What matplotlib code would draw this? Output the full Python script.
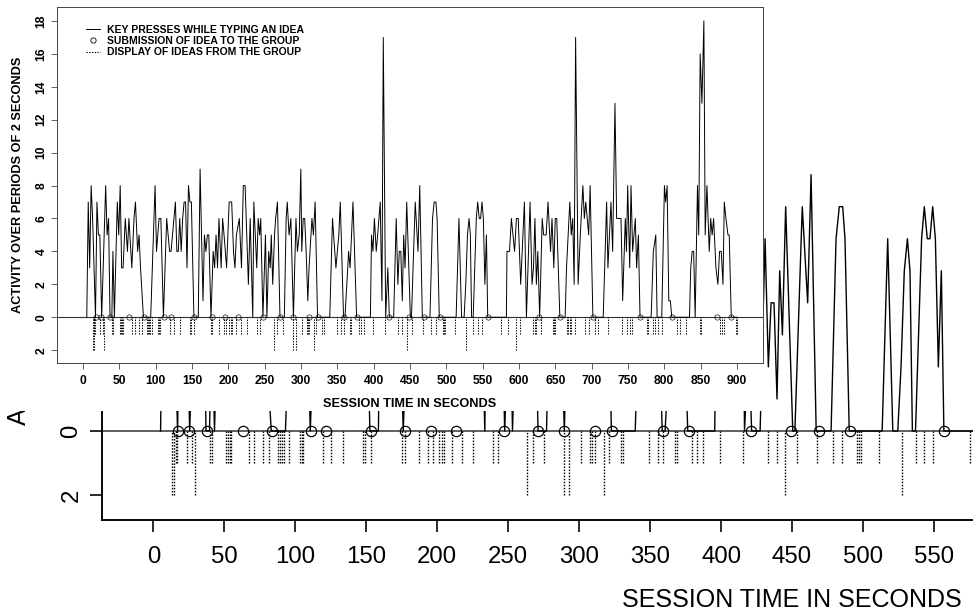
import matplotlib
matplotlib.use("Agg")
import matplotlib.pyplot as plt
from matplotlib.lines import Line2D
from matplotlib.patches import Rectangle
import numpy as np

plt.rcParams['font.family'] = ['Liberation Sans', 'DejaVu Sans']

# key presses per 2-second period (vertices of the trace, seconds / count)
key_t = [5, 7, 9, 11, 13, 17, 19, 21, 23, 25.5, 31, 33, 35, 37, 39.5, 41, 43, 47, 49, 51,
         53, 55, 58, 61, 63, 67, 70, 72, 75, 77, 79, 83, 93, 99, 101, 104.5, 107, 110.5, 115, 119,
         121, 125, 127, 129, 131, 133, 135, 137, 139, 141, 143, 145, 147, 149, 152.5, 158.5, 161, 165, 167, 169,
         171, 173, 176, 179, 181, 183, 185, 187, 190, 192, 194, 197.5, 201, 204.5, 207, 209, 211, 215, 218, 220.5,
         223, 227.5, 230, 233.5, 235, 239, 241, 243, 244.5, 247.5, 251, 253, 255.5, 257.5, 259, 261, 263.5, 265, 267.5, 271,
         277, 279.5, 281, 283.5, 286, 289.5, 293, 295, 297.5, 299.7, 301, 303, 305, 307, 309.3, 311, 315, 317, 319.4, 322.7,
         339.5, 343.3, 348, 352, 354, 358.5, 360.5, 363, 365.5, 367.5, 371.5, 376.5, 395.5, 397, 399, 401, 403.5, 405.5, 409, 411.4,
         413.2, 416.5, 419.5, 421.5, 427.5, 431, 433.3, 435.2, 437.3, 439.4, 441.3, 443.2, 445.5, 450.5, 452, 457.2, 461, 463.4, 467, 469,
         477.5, 481, 483.3, 485.7, 487.3, 490.3, 513.5, 517.4, 521, 524.5, 526.8, 529.1, 531.3, 533.1, 534.8, 537, 541.3, 543.2, 545.3, 547.2,
         549.1, 551, 553.1, 555.2, 557, 582.7, 583.5, 587, 589.6, 594, 596.5, 599, 602.4, 607.5, 610.3, 615.3, 618, 620, 622, 624,
         626, 628.5, 632, 634, 637.5, 640, 643.5, 645.5, 648, 650, 652, 656.3, 663.6, 665.5, 670, 672, 674, 676, 678, 681.5,
         684.5, 688, 690, 692, 696, 698, 701.8, 716, 720.7, 722.5, 726.7, 729, 732.2, 734.5, 740.5, 742.8, 746.4, 748, 749.7, 752.5,
         754.3, 756.5, 760.2, 762, 764.4, 766.7, 782, 785, 788.4, 790.2, 796.6, 800.3, 802, 804, 806.3, 808.5, 810.4, 834.8, 836.5, 838.5,
         840.5, 842.6, 845.8, 847.5, 849.5, 851.9, 854.6, 856.4, 858.8, 862, 864, 866, 868, 871.2, 873.9, 876.2, 878.5, 880.9, 882.7, 885,
         887.8, 889.5, 892.3, 900]
key_v = [0, 7, 3, 8, 6, 0, 7, 5, 5, 0, 8, 5, 6, 0, 0, 4, 0, 7, 5, 8,
         3, 3, 6, 4, 6, 3, 6, 7, 4, 5, 3, 0, 0, 8, 4, 6, 6, 0, 6, 4,
         4, 6, 7, 4, 4, 6, 4, 6, 7, 7, 3, 8, 7, 7, 0, 0, 9, 1, 5, 4,
         5, 5, 0, 4, 3, 5, 3, 6, 3, 6, 5, 3, 7, 7, 4, 3, 5, 6, 3, 8,
         8, 2, 6, 0, 7, 3, 6, 5, 6, 0, 5, 0, 4, 3, 5, 2, 5, 6, 7, 0,
         0, 6, 7, 5, 6, 0, 6, 4, 5, 9, 4, 6, 6, 4, 1, 3, 6, 5, 7, 0,
         0, 6, 3, 5, 7, 0, 0, 2, 4, 3, 7, 0, 0, 5, 4, 6, 4, 5, 7, 1,
         17, 0, 3, 0, 0, 6, 2, 4, 4, 1, 5, 3, 7, 0, 0, 7, 4, 8, 0, 0,
         0, 6, 7, 7, 6, 0, 0, 6, 0, 0, 2, 5, 6, 5, 0, 0, 6, 7, 6, 6,
         7, 6, 2, 5, 0, 0, 4, 4, 6, 4, 6, 6, 2, 7, 0, 7, 2, 3, 6, 2,
         4, 0, 6, 5, 5, 7, 4, 6, 3, 6, 6, 0, 0, 3, 7, 5, 6, 2, 17, 2,
         5, 8, 6, 7, 5, 8, 0, 0, 7, 3, 7, 4, 13, 6, 6, 1, 6, 4, 8, 3,
         8, 4, 6, 3, 5, 0, 0, 4, 5, 0, 0, 8, 7, 8, 1, 1, 0, 0, 3, 4,
         4, 0, 8, 5, 16, 13, 18, 5, 8, 4, 6, 5, 6, 3, 2, 4, 4, 2, 7, 6,
         5, 5, 0, 0]

# submissions of an idea to the group (seconds)
sub_t = [17.5, 25.2, 37.5, 63.3, 83.3, 111, 121.3, 153, 177, 195.3, 213.2, 247.2, 271.2, 289.3, 311.1,
         323.3, 359, 377.2, 421.3, 449.3, 469.2, 491, 557.3, 628.2, 655.9, 701.8, 766.7, 810.4, 872.6, 892.3]

# ideas displayed from the group (seconds / number shown)
disp_t = [13.3, 14.4, 15.6, 16.8, 23.4, 27.4, 29.2, 40.0, 41.2, 51.1, 52.5, 53.9, 54.8, 67.3, 71.0, 77.4,
          81.6, 87.5, 89.1, 90.5, 91.8, 95.3, 103.0, 104.4, 105.6, 119.2, 125.1, 133.3, 147.4, 148.8, 153.1,
          175.4, 177.0, 187.3, 193.4, 197.2, 201.4, 203.1, 204.5, 210.1, 217.4, 224.9, 239.0, 243.0, 263.2,
          267.2, 275.1, 289.3, 293.0, 301.3, 307.6, 309.2, 311.1, 317.4, 321.2, 329.2, 331.1, 349.2, 355.3,
          358.8, 367.5, 369.1, 379.5, 383.2, 387.2, 399.2, 415.4, 433.3, 439.2, 445.2, 453.3, 467.4, 479.1,
          485.2, 495.5, 497.2, 498.6, 511.5, 527.5, 537.1, 543.2, 549.1, 575.4, 585.4, 596, 601.5, 620,
          621.8, 623.1, 631, 647, 648.4, 649.8, 665.5, 667.3, 669.7, 671.4, 677.4, 691.2, 696.7, 704.6,
          709.2, 722.1, 741.9, 748.8, 752.5, 755.7, 776.4, 778.2, 784.2, 787.4, 791.1, 796.6, 817.3, 821.5,
          830.2, 849.9, 851.3, 876.2, 879, 882.3, 898.3, 900.6]
disp_n = [2, 2, 1, 1, 1, 1, 2, 1, 1, 1, 1, 1, 1, 1, 1, 1,
          1, 1, 1, 1, 1, 1, 1, 1, 1, 1, 1, 1, 1, 1, 1,
          1, 1, 1, 1, 1, 1, 1, 1, 1, 1, 1, 1, 1, 2,
          1, 1, 2, 2, 1, 1, 1, 1, 2, 1, 1, 1, 1, 1,
          1, 1, 1, 1, 1, 1, 1, 1, 1, 1, 2, 1, 1, 1,
          1, 1, 1, 1, 1, 2, 1, 1, 1, 1, 1, 2, 1, 1,
          1, 1, 1, 1, 1, 1, 1, 1, 1, 1, 1, 1, 1, 1,
          1, 1, 1, 1, 1, 1, 1, 1, 1, 1, 1, 1, 1, 1,
          1, 1, 1, 1, 1, 1, 1, 1]

xticks = list(range(0, 901, 50))
yticks = list(range(-2, 19, 2))
ytick_labels = [str(abs(v)) for v in yticks]
XLIM = (-36, 936)
YLIM = (-2.78, 18.85)

W, H = 973.0, 612.0


def box(l, t, r, b):
    return [l / W, 1 - b / H, (r - l) / W, (b - t) / H]


def draw_panel(ax, k, line_w, dot_w, dot_dash, base_w, weight, fs_tick, fs_lab,
               tlen, xpad, ypad, spine_col, ylab_x):
    ax.plot(key_t, key_v, color='black', lw=line_w, zorder=3)
    ax.axhline(0, color='#333333', lw=base_w, zorder=2)
    ax.vlines(disp_t, -np.array(disp_n, dtype=float), 0, colors='black', lw=dot_w,
              linestyles=(0, (dot_dash, dot_dash)), zorder=2)
    ax.plot(sub_t, np.zeros(len(sub_t)), 'o', ms=3.8 * k, mfc='none', mec='black',
            mew=0.45 * k, zorder=4)
    ax.set_xlim(*XLIM)
    ax.set_ylim(*YLIM)
    ax.set_xticks(xticks)
    ax.set_xticklabels([str(v) for v in xticks], fontsize=fs_tick, fontweight=weight)
    ax.set_yticks(yticks)
    ax.set_yticklabels(ytick_labels, fontsize=fs_tick, fontweight=weight,
                       rotation=90, va='center')
    ax.tick_params(axis='both', direction='out', length=tlen, width=0.6 * k, color=spine_col)
    ax.tick_params(axis='x', pad=xpad)
    ax.tick_params(axis='y', pad=ypad)
    for s in ax.spines.values():
        s.set_color(spine_col)
        s.set_linewidth(0.7 * k)
    ax.set_xlabel('SESSION TIME IN SECONDS', fontsize=fs_lab, fontweight=weight, va='top')
    ax.set_ylabel('ACTIVITY OVER PERIODS OF 2 SECONDS', fontsize=fs_lab, fontweight=weight)
    ax.xaxis.set_label_coords(0.5, -0.098)
    ax.yaxis.set_label_coords(ylab_x, 0.5)


fig = plt.figure(figsize=(9.73, 6.12), dpi=100)

# enlarged copy of the chart behind
ax_bg = fig.add_axes(box(102.4, -173.1, 1481.7, 520.1))
draw_panel(ax_bg, 1.95, 1.0, 1.0, 1.1, 1.1, 'normal', 17.3, 18, 8.3, 10.5, 6.0, 'black', -0.052)

# white window of the small chart
fig.add_artist(Rectangle((0, 1 - 411 / H), 764 / W, 411 / H, transform=fig.transFigure,
                         facecolor='white', edgecolor='none', zorder=1))

ax = fig.add_axes(box(57, 7, 763, 363))
ax.set_zorder(2)
draw_panel(ax, 1.0, 0.7, 0.75, 1.3, 0.8, 'bold', 8.7, 9.2, 4.3, 4.0, 2.5, '#444444', -0.047)

handles = [Line2D([], [], color='black', lw=0.7),
           Line2D([], [], ls='none', marker='o', ms=3.8, mfc='none', mec='black', mew=0.6),
           Line2D([], [], color='black', lw=0.75, ls=(0, (1.3, 1.3)))]
labels = ['KEY PRESSES WHILE TYPING AN IDEA', 'SUBMISSION OF IDEA TO THE GROUP',
          'DISPLAY OF IDEAS FROM THE GROUP']
ax.legend(handles, labels, loc='upper left', bbox_to_anchor=(0.041, 0.95), frameon=False,
          prop={'size': 7.5, 'weight': 'bold'}, handlelength=1.35, handletextpad=0.65,
          labelspacing=0.12, borderpad=0, borderaxespad=0)

fig.savefig('out.png', dpi=100)
